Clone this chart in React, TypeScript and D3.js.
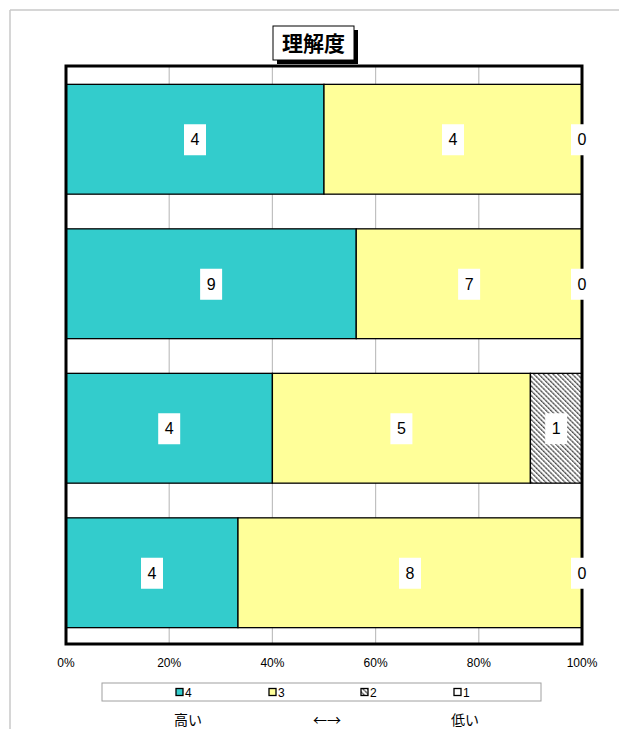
import React from "react";
import * as d3 from "d3";

const categories = ["A", "B", "C", "D"];
const seriesNames = ["4", "3", "2", "1"];
const s4 = [4, 9, 4, 4];
const s3 = [4, 7, 5, 8];
const s2 = [0, 0, 1, 0];
const s1 = [0, 0, 0, 0];
const showLabels = [true, true, true, false];
const tickValues = [0, 0.2, 0.4, 0.6, 0.8, 1];
const title = "理解度";
const bottomLabels = ["高い", "←→", "低い"];

const colors = ["#33CCCC", "#FFFF99", "url(#hatch)", "#FFFFFF"];

export default function App() {
  const W = 619, H = 729;
  const left = 66, right = 582, top = 66, bottom = 644;
  const x = d3.scaleLinear().domain([0, 1]).range([left, right]);
  const y = d3.scaleBand().domain(categories).range([top + 1, bottom + 1]).paddingInner(0.24).paddingOuter(0.12);

  const rows = categories.map((c, i) => ({ cat: c, "4": s4[i], "3": s3[i], "2": s2[i], "1": s1[i] }));
  const stack = d3.stack<any>().keys(seriesNames).offset(d3.stackOffsetExpand);
  const layers = stack(rows);

  const font = "'Liberation Sans', Arial, sans-serif";
  const legendX = [176, 269, 361, 454];
  const bottomX = [188, 327, 465];

  return (
    <svg width={W} height={H} style={{ position: "absolute", left: 0, top: 0 }} fontFamily={font}>
      <defs>
        <pattern id="hatch" patternUnits="userSpaceOnUse" width="3.4" height="3.4" patternTransform="rotate(-45)">
          <rect width="3.4" height="3.4" fill="#fff" />
          <line x1="0.7" y1="0" x2="0.7" y2="3.4" stroke="#222" strokeWidth="1.1" strokeDasharray="1.4 0.6" />
        </pattern>
      </defs>
      <rect width={W} height={H} fill="#fff" />
      {/* outer frame */}
      <line x1={10} y1={10} x2={W} y2={10} stroke="#c8c8c8" strokeWidth={1.5} />
      <line x1={10} y1={10} x2={10} y2={H} stroke="#c8c8c8" strokeWidth={1.5} />

      {/* plot background */}
      <rect x={left} y={top} width={right - left} height={bottom - top} fill="#fff" />
      {/* gridlines */}
      {tickValues.slice(1, -1).map((t) => (
        <line key={t} x1={x(t)} x2={x(t)} y1={top} y2={bottom} stroke="#c0c0c0" strokeWidth={1.2} />
      ))}

      {/* bars */}
      {layers.map((layer, li) => (
        <g key={layer.key}>
          {layer.map((d, i) => {
            const w = x(d[1]) - x(d[0]);
            if (w <= 0) return null;
            return (
              <rect key={i} x={x(d[0])} y={y(categories[i])!} width={w} height={y.bandwidth()}
                fill={colors[li]} stroke="#000" strokeWidth={1.3} />
            );
          })}
        </g>
      ))}

      {/* plot border */}
      <rect x={left} y={top} width={right - left} height={bottom - top} fill="none" stroke="#000" strokeWidth={3} />

      {/* data labels */}
      {layers.map((layer, li) =>
        showLabels[li]
          ? layer.map((d, i) => {
              const cx = (x(d[0]) + x(d[1])) / 2;
              const cy = y(categories[i])! + y.bandwidth() / 2;
              const v = (rows[i] as any)[layer.key];
              return (
                <g key={layer.key + i}>
                  <rect x={cx - 11} y={cy - 15} width={22} height={31} fill="#fff" />
                  <text x={cx} y={cy + 6} textAnchor="middle" fontSize={16}>{v}</text>
                </g>
              );
            })
          : null
      )}

      {/* x tick labels */}
      {tickValues.map((t) => (
        <text key={t} x={x(t)} y={667} textAnchor="middle" fontSize={12}>{d3.format(".0%")(t)}</text>
      ))}

      {/* legend */}
      <rect x={102} y={683} width={439} height={18} fill="#fff" stroke="#a0a0a0" strokeWidth={1} />
      {seriesNames.map((s, i) => (
        <g key={s}>
          <rect x={legendX[i]} y={688.5} width={7} height={7} fill={colors[i]} stroke="#000" strokeWidth={1.3} />
          <text x={legendX[i] + 9} y={696.5} fontSize={12}>{s}</text>
        </g>
      ))}

      {/* bottom labels */}
      {bottomLabels.map((t, i) => (
        <text key={t} x={bottomX[i]} y={725} textAnchor="middle" fontSize={14}
          fontFamily="'Noto Sans CJK JP', sans-serif">{t}</text>
      ))}

      {/* title */}
      <rect x={277} y={30} width={81} height={34} fill="#000" />
      <rect x={273} y={26} width={81} height={34} fill="#fff" stroke="#000" strokeWidth={1} />
      <text x={313.5} y={51} textAnchor="middle" fontSize={21} fontWeight="bold"
        fontFamily="'Noto Sans CJK JP', sans-serif">{title}</text>
    </svg>
  );
}
